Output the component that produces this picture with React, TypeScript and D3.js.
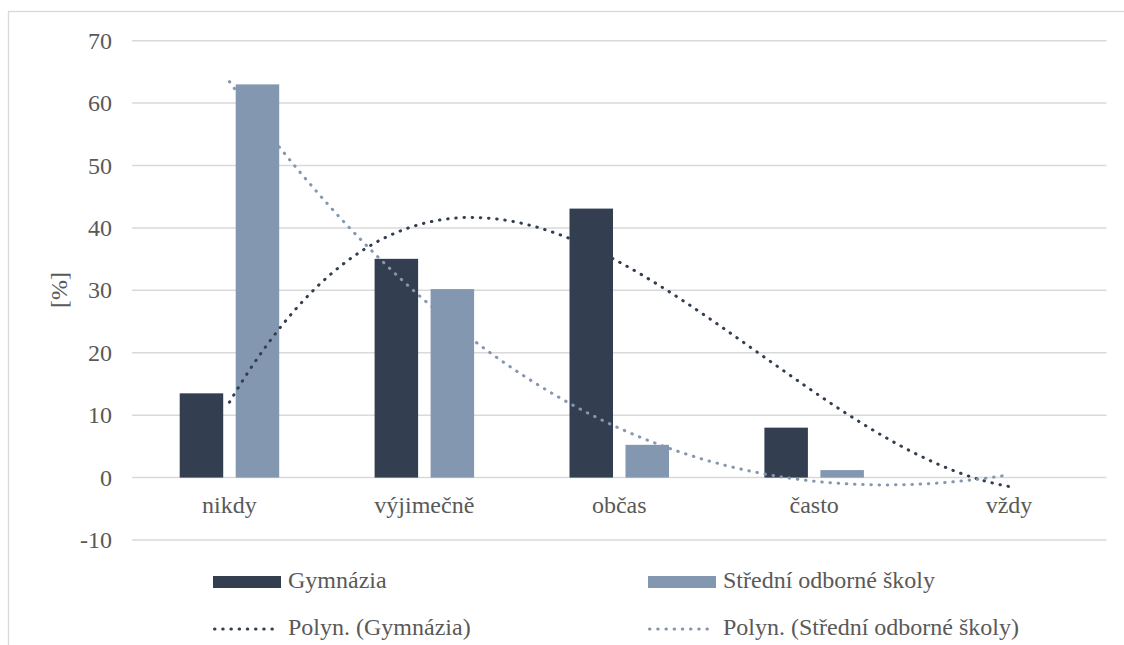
import React from 'react';
import * as d3 from 'd3';

const categories = ['nikdy', 'výjimečně', 'občas', 'často', 'vždy'];
const gymnazia = [13.5, 35.05, 43.1, 8.0, 0];
const stredni = [63.0, 30.2, 5.25, 1.2, 0];
const yTicks = [-10, 0, 10, 20, 30, 40, 50, 60, 70];
const seriesNames = ['Gymnázia', 'Střední odborné školy'];
const trendNames = ['Polyn. (Gymnázia)', 'Polyn. (Střední odborné školy)'];

const W = 1124;
const H = 645;
const FONT = "'Liberation Serif', 'DejaVu Serif', serif";
const TEXT = '#595959';
const GRID = '#d9d9d9';
const C_DARK = '#333f50';
const C_LIGHT = '#8497b0';

// least-squares polynomial fit (order 3), as an Excel trendline
function polyFit(xs: number[], ys: number[], order: number): number[] {
  const n = order + 1;
  const A: number[][] = [];
  for (let r = 0; r < n; r++) {
    const row: number[] = [];
    for (let c = 0; c < n; c++) {
      row.push(d3.sum(xs, (x) => Math.pow(x, r + c)));
    }
    row.push(d3.sum(xs, (x, i) => Math.pow(x, r) * ys[i]));
    A.push(row);
  }
  for (let i = 0; i < n; i++) {
    let p = i;
    for (let k = i + 1; k < n; k++) if (Math.abs(A[k][i]) > Math.abs(A[p][i])) p = k;
    [A[i], A[p]] = [A[p], A[i]];
    for (let k = i + 1; k < n; k++) {
      const f = A[k][i] / A[i][i];
      for (let j = i; j <= n; j++) A[k][j] -= f * A[i][j];
    }
  }
  const coef = new Array(n).fill(0);
  for (let i = n - 1; i >= 0; i--) {
    let s = A[i][n];
    for (let j = i + 1; j < n; j++) s -= A[i][j] * coef[j];
    coef[i] = s / A[i][i];
  }
  return coef;
}

const textStyle: React.CSSProperties = { fontFamily: FONT, fontSize: '24px', fill: TEXT };

export default function App() {
  const left = 132;
  const right = 1106.5;
  const x = d3.scaleBand<string>().domain(categories).range([left, right]).padding(0);
  const y = d3.scaleLinear().domain([-10, 70]).range([540, 40.7]);

  const groupHalf = 49.75;
  const sub = d3
    .scaleBand<string>()
    .domain(seriesNames)
    .range([0, groupHalf * 2])
    .paddingInner(0.223)
    .paddingOuter(0);

  const xs = categories.map((_, i) => i + 1);
  const xNum = d3
    .scaleLinear()
    .domain([1, categories.length])
    .range([x(categories[0])! + x.bandwidth() / 2, x(categories[categories.length - 1])! + x.bandwidth() / 2]);

  const trends = [gymnazia, stredni].map((vals) => {
    const coef = polyFit(xs, vals, 3);
    const pts = d3.range(0, 201).map((k) => {
      const t = 1 + (k / 200) * (categories.length - 1);
      const v = coef.reduce((s, c, i) => s + c * Math.pow(t, i), 0);
      return [t, v] as [number, number];
    });
    return pts;
  });
  const line = d3
    .line<[number, number]>()
    .x((d) => xNum(d[0]))
    .y((d) => y(d[1]))
    .curve(d3.curveLinear);

  const colors = [C_DARK, C_LIGHT];
  const data = [gymnazia, stredni];

  return (
    <svg
      width={W}
      height={H}
      style={{ position: 'absolute', left: 0, top: 0, display: 'block', background: '#fff', fontFamily: FONT }}
    >
      <rect x={8.5} y={11.5} width={1200} height={800} fill="#fff" stroke={GRID} strokeWidth={1.3} />
      {yTicks.map((t) => (
        <g key={t}>
          <line x1={left} x2={right} y1={y(t)} y2={y(t)} stroke={GRID} strokeWidth={1.5} />
          <text x={112} y={y(t) + 8} textAnchor="end" style={textStyle}>
            {t}
          </text>
        </g>
      ))}
      <text
        transform={`translate(${67},${290}) rotate(-90)`}
        textAnchor="middle"
        style={textStyle}
      >
        [%]
      </text>
      {categories.map((c, i) => {
        const cx = x(c)! + x.bandwidth() / 2;
        return (
          <g key={c}>
            {data.map((vals, s) => {
              const bx = cx - groupHalf + sub(seriesNames[s])!;
              const v = vals[i];
              if (v <= 0) return null;
              return (
                <rect
                  key={s}
                  x={bx}
                  y={y(v)}
                  width={sub.bandwidth()}
                  height={y(0) - y(v)}
                  fill={colors[s]}
                />
              );
            })}
            <text x={cx} y={513} textAnchor="middle" style={textStyle}>
              {c}
            </text>
          </g>
        );
      })}
      {trends.map((pts, s) => (
        <path
          key={s}
          d={line(pts) || ''}
          fill="none"
          stroke={colors[s]}
          strokeWidth={3}
          strokeDasharray="0.5 7.7"
          strokeLinecap="round"
        />
      ))}
      {[0, 1].map((s) => {
        const lx = s === 0 ? 213 : 648;
        return (
          <g key={s}>
            <rect x={lx} y={576} width={68} height={12} fill={colors[s]} />
            <text x={lx + 75} y={588} style={textStyle}>
              {seriesNames[s]}
            </text>
            <line
              x1={lx + 1.5}
              x2={lx + 67}
              y1={629}
              y2={629}
              stroke={colors[s]}
              strokeWidth={3}
              strokeDasharray="0.5 7.7"
              strokeLinecap="round"
            />
            <text x={lx + 75} y={635} style={textStyle}>
              {trendNames[s]}
            </text>
          </g>
        );
      })}
    </svg>
  );
}
